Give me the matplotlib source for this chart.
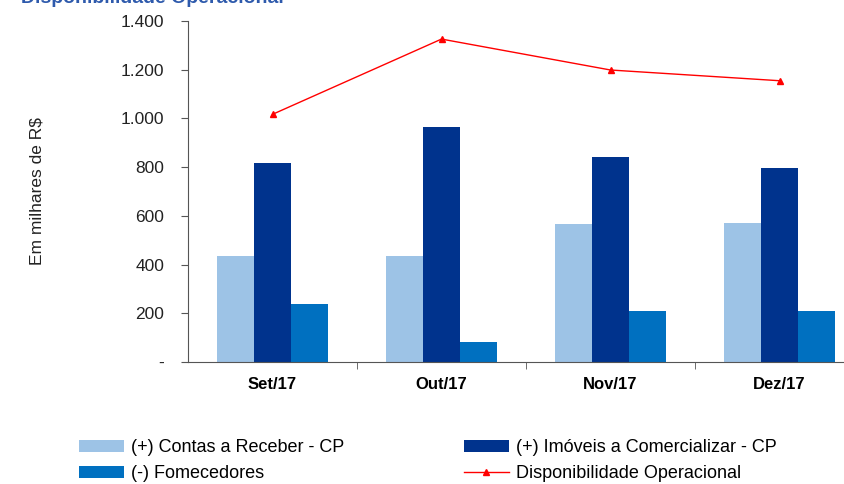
import numpy as np
import matplotlib.pyplot as plt
from matplotlib.ticker import FuncFormatter

plt.rcParams["font.family"] = ["Liberation Sans", "DejaVu Sans"]

# -------------------------
# Data (R$ mil)
# -------------------------
months = ["Set/17", "Out/17", "Nov/17", "Dez/17"]
contas_receber = [435, 435, 567, 572]
imoveis = [817, 965, 842, 797]
fornecedores = [237, 83, 211, 211]
disponibilidade = [1017, 1326, 1199, 1155]

labels = ["(+) Contas a Receber - CP", "(+) Imóveis a Comercializar - CP",
          "(-) Fomecedores", "Disponibilidade Operacional"]

C_LIGHT = "#9DC3E6"
C_DARK = "#00338D"
C_MID = "#0070C0"
C_RED = "#FF0000"

fig = plt.figure(figsize=(8.45, 4.84), dpi=100)
ax = fig.add_axes([0.2225, 0.252, 0.80, 0.7045])

x = np.arange(len(months))
w = 0.22
b1 = ax.bar(x - w, contas_receber, w, color=C_LIGHT)
b2 = ax.bar(x, imoveis, w, color=C_DARK)
b3 = ax.bar(x + w, fornecedores, w, color=C_MID)
ln, = ax.plot(x, disponibilidade, color=C_RED, lw=1, marker="^", ms=5)

ax.set_xlim(-0.5, len(months) - 0.5)
ax.set_ylim(0, 1400)
ax.set_yticks(np.arange(0, 1401, 200))
ax.yaxis.set_major_formatter(FuncFormatter(
    lambda v, p: "-" if v == 0 else f"{int(v):,}".replace(",", ".")))
ax.tick_params(axis="y", labelsize=12.5, length=5, pad=12, color="#555555",
               labelcolor="#222222")

# category labels centred, tick marks between groups
ax.set_xticks(x)
ax.set_xticklabels(months, fontsize=12, fontweight="bold")
ax.tick_params(axis="x", which="major", length=0, pad=11)
ax.set_xticks(np.arange(0.5, len(months) - 0.5), minor=True)
ax.tick_params(axis="x", which="minor", length=5, color="#555555")

for s in ["top", "right"]:
    ax.spines[s].set_visible(False)
for s in ["left", "bottom"]:
    ax.spines[s].set_color("#555555")

ax.set_ylabel("Em milhares de R$", fontsize=12.5, color="#222222")
ax.yaxis.set_label_coords(-0.213, 0.5)

fig.text(0.025, 0.994, "Disponibilidade Operacional", color="#2E5AAC",
         fontsize=14, fontweight="bold", va="baseline")

# column-first fill: col 1 = contas, fornecedores; col 2 = imoveis, linha
fig.legend(handles=[b1, b3, b2, ln],
           labels=[labels[0], labels[2], labels[1], labels[3]],
           loc="upper left", bbox_to_anchor=(70 / 845, 1 - 430 / 484),
           ncol=2, frameon=False, fontsize=13, borderpad=0,
           handlelength=2.5, handleheight=0.65, handletextpad=0.4,
           columnspacing=6.6, labelspacing=0.5)

fig.savefig("out.png", dpi=100)
